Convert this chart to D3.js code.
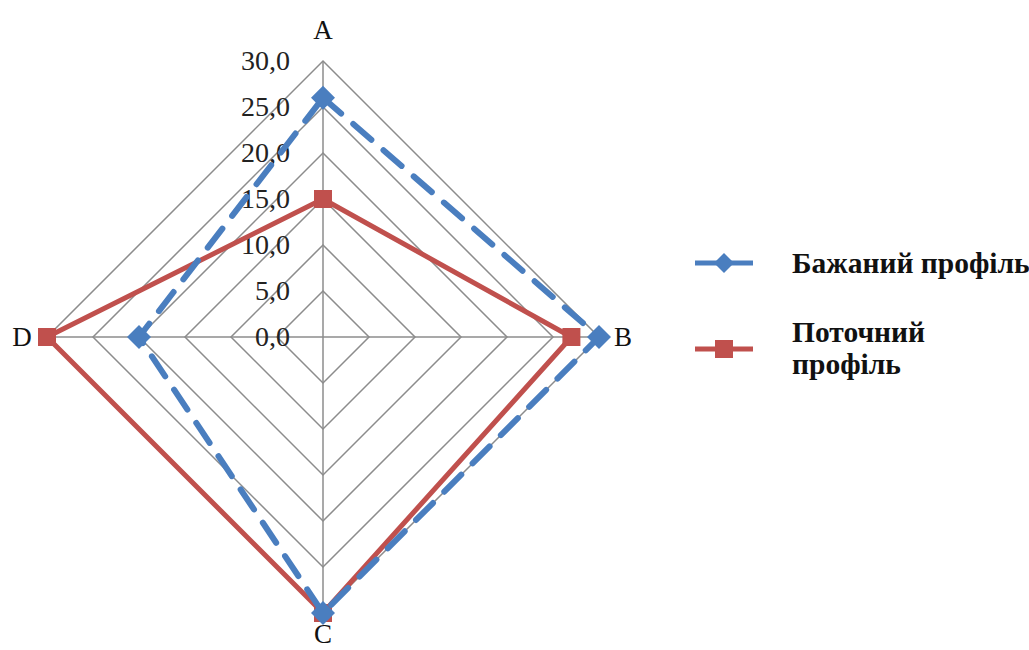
<!DOCTYPE html>
<html>
<head>
<meta charset="utf-8">
<script src="https://cdn.jsdelivr.net/npm/d3@7"></script>
<style>
  html, body { margin: 0; padding: 0; background: #fff; }
  svg { display: block; }
</style>
</head>
<body>
<svg id="chart" width="1029" height="650"></svg>
<script>
// Radar chart data
const axes = ["A", "B", "C", "D"];
const desired = [26, 30, 30, 20];   // Бажаний профіль
const current = [15, 27, 30, 30];   // Поточний профіль
const ticks = [0, 5, 10, 15, 20, 25, 30];
const seriesNames = ["Бажаний профіль", "Поточний профіль"];
const seriesColors = ["#4a7ebf", "#c0504d"];

const FONT = '"Liberation Serif", "Times New Roman", serif';

const svg = d3.select("#chart");
const cx = 323, cy = 337, R = 276;
const r = d3.scaleLinear().domain([0, 30]).range([0, R]);
const angle = d3.scalePoint().domain(axes).range([-Math.PI / 2, Math.PI]);
const pt = (ax, v) => [cx + r(v) * Math.cos(angle(ax)), cy + r(v) * Math.sin(angle(ax))];
const fmt = v => d3.format(".1f")(v).replace(".", ",");

const g = svg.append("g");

// Grid rings
g.selectAll("polygon.ring").data(ticks.filter(t => t > 0)).join("polygon")
  .attr("class", "ring")
  .attr("points", t => axes.map(a => pt(a, t).join(",")).join(" "))
  .attr("fill", "none").attr("stroke", "#8c8c8c").attr("stroke-width", 1.5);

// Spokes
g.selectAll("line.spoke").data(axes).join("line")
  .attr("class", "spoke")
  .attr("x1", cx).attr("y1", cy)
  .attr("x2", a => pt(a, 30)[0]).attr("y2", a => pt(a, 30)[1])
  .attr("stroke", "#8c8c8c").attr("stroke-width", 1.5);

// Tick labels along the A axis
g.selectAll("text.tick").data(ticks).join("text")
  .attr("class", "tick")
  .attr("x", cx - 33).attr("y", t => cy - r(t) + 9)
  .attr("text-anchor", "end")
  .style("font-family", FONT).style("font-size", "28px")
  .attr("fill", "#222")
  .text(fmt);

// Axis labels (baseline offsets from each axis end)
const labelOffset = { A: [0, -22], B: [24, 9], C: [0, 36], D: [-25, 9] };
g.selectAll("text.axis").data(axes).join("text")
  .attr("class", "axis")
  .attr("x", a => pt(a, 30)[0] + labelOffset[a][0])
  .attr("y", a => Math.min(pt(a, 30)[1] + labelOffset[a][1], 643))
  .attr("text-anchor", "middle")
  .style("font-family", FONT).style("font-size", "27px")
  .attr("fill", "#111")
  .text(a => a);

const line = d3.lineRadial().angle(d => angle(d.axis) + Math.PI / 2).radius(d => r(d.value)).curve(d3.curveLinearClosed);

function seriesData(vals) { return axes.map((a, i) => ({ axis: a, value: vals[i] })); }

// Current profile (red, solid, squares)
const cur = seriesData(current);
g.append("path").datum(cur)
  .attr("transform", `translate(${cx},${cy})`)
  .attr("d", line).attr("fill", "none")
  .attr("stroke", seriesColors[1]).attr("stroke-width", 5).attr("stroke-linejoin", "round");
g.selectAll("rect.cur").data(cur).join("rect")
  .attr("class", "cur")
  .attr("x", d => pt(d.axis, d.value)[0] - 9).attr("y", d => pt(d.axis, d.value)[1] - 9)
  .attr("width", 18).attr("height", 18).attr("fill", seriesColors[1]);

// Desired profile (blue, dashed, diamonds)
const des = seriesData(desired);
g.append("path").datum(des)
  .attr("transform", `translate(${cx},${cy})`)
  .attr("d", line).attr("fill", "none")
  .attr("stroke", seriesColors[0]).attr("stroke-width", 6)
  .attr("stroke-dasharray", "24,16").attr("stroke-linecap", "round");
g.selectAll("path.des").data(des).join("path")
  .attr("class", "des")
  .attr("transform", d => `translate(${pt(d.axis, d.value)})`)
  .attr("d", "M0,-12L12,0L0,12L-12,0Z").attr("fill", seriesColors[0]);

// Legend
const leg = svg.append("g");
const legText = sel => sel.style("font-family", FONT).style("font-weight", "bold")
  .style("font-size", "29.5px").attr("fill", "#111");

const l1 = leg.append("g").attr("transform", "translate(0,263)");
l1.append("line").attr("x1", 695).attr("x2", 753).attr("stroke", seriesColors[0]).attr("stroke-width", 5);
l1.append("path").attr("transform", "translate(724,0)").attr("d", "M0,-10L10,0L0,10L-10,0Z").attr("fill", seriesColors[0]);
l1.append("text").attr("x", 792).attr("y", 10).call(legText).text(seriesNames[0]);

const l2 = leg.append("g").attr("transform", "translate(0,349)");
l2.append("line").attr("x1", 695).attr("x2", 753).attr("stroke", seriesColors[1]).attr("stroke-width", 5);
l2.append("rect").attr("x", 715).attr("y", -9).attr("width", 18).attr("height", 18).attr("fill", seriesColors[1]);
const words = seriesNames[1].split(" ");
l2.append("text").attr("x", 792).attr("y", -7).call(legText).text(words[0]);
l2.append("text").attr("x", 792).attr("y", 25).call(legText).text(words[1]);
</script>
</body>
</html>
